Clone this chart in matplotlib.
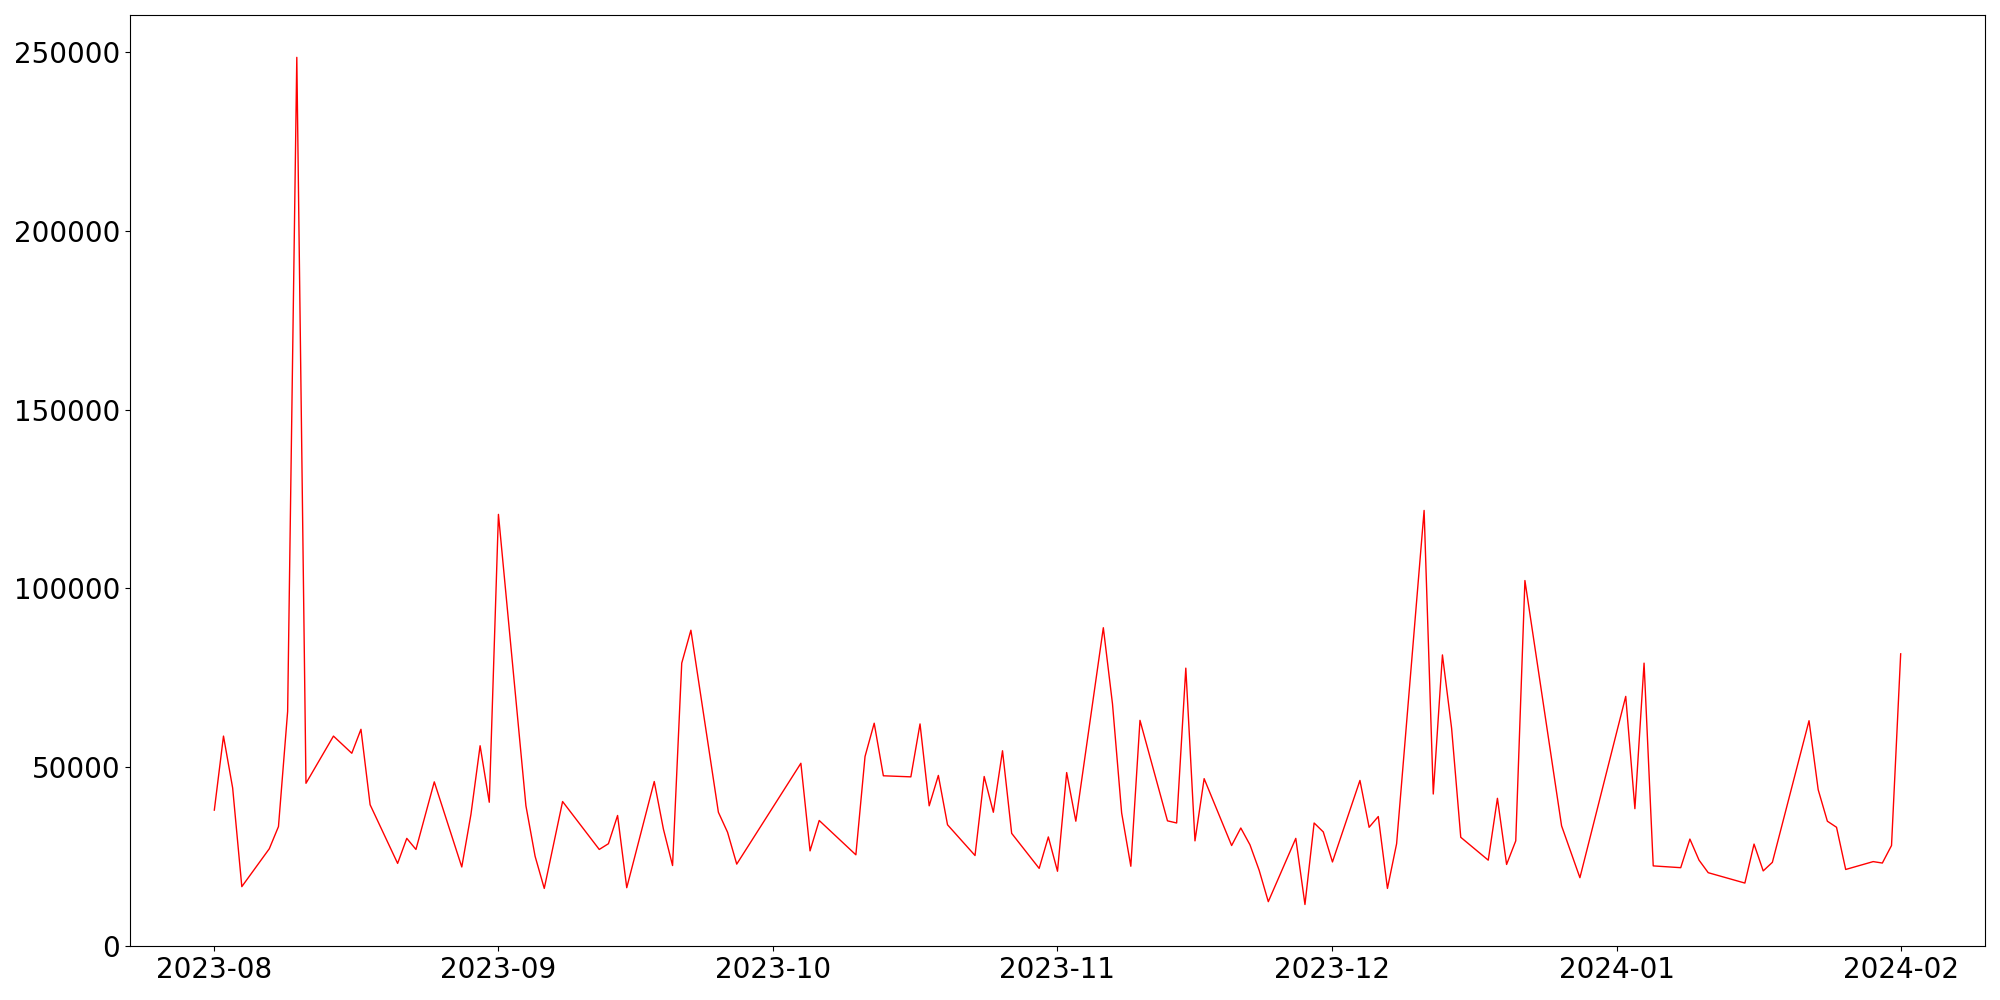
import matplotlib
matplotlib.use('Agg')

import matplotlib.pyplot as plt
import pandas as pd

# Trading days (gaps = weekends, holidays and missing days)
dates = [
    "2023-08-01", "2023-08-02", "2023-08-03", "2023-08-04", "2023-08-07",
    "2023-08-08", "2023-08-09", "2023-08-10", "2023-08-11", "2023-08-14",
    "2023-08-16", "2023-08-17", "2023-08-18", "2023-08-21", "2023-08-22",
    "2023-08-23", "2023-08-25", "2023-08-28", "2023-08-29", "2023-08-30",
    "2023-08-31", "2023-09-01", "2023-09-04", "2023-09-05", "2023-09-06",
    "2023-09-08", "2023-09-12", "2023-09-13", "2023-09-14", "2023-09-15",
    "2023-09-18", "2023-09-19", "2023-09-20", "2023-09-21", "2023-09-22",
    "2023-09-25", "2023-09-26", "2023-09-27", "2023-10-04", "2023-10-05",
    "2023-10-06", "2023-10-10", "2023-10-11", "2023-10-12", "2023-10-13",
    "2023-10-16", "2023-10-17", "2023-10-18", "2023-10-19", "2023-10-20",
    "2023-10-23", "2023-10-24", "2023-10-25", "2023-10-26", "2023-10-27",
    "2023-10-30", "2023-10-31", "2023-11-01", "2023-11-02", "2023-11-03",
    "2023-11-06", "2023-11-07", "2023-11-08", "2023-11-09", "2023-11-10",
    "2023-11-13", "2023-11-14", "2023-11-15", "2023-11-16", "2023-11-17",
    "2023-11-20", "2023-11-21", "2023-11-22", "2023-11-23", "2023-11-24",
    "2023-11-27", "2023-11-28", "2023-11-29", "2023-11-30", "2023-12-01",
    "2023-12-04", "2023-12-05", "2023-12-06", "2023-12-07", "2023-12-08",
    "2023-12-11", "2023-12-12", "2023-12-13", "2023-12-14", "2023-12-15",
    "2023-12-18", "2023-12-19", "2023-12-20", "2023-12-21", "2023-12-22",
    "2023-12-26", "2023-12-28", "2024-01-02", "2024-01-03", "2024-01-04",
    "2024-01-05", "2024-01-08", "2024-01-09", "2024-01-10", "2024-01-11",
    "2024-01-15", "2024-01-16", "2024-01-17", "2024-01-18", "2024-01-22",
    "2024-01-23", "2024-01-24", "2024-01-25", "2024-01-26", "2024-01-29",
    "2024-01-30", "2024-01-31", "2024-02-01",
]

values = [
    38000, 58700, 44200, 16600, 27200,
    33400, 65600, 248500, 45500, 58700,
    53900, 60600, 39500, 23100, 30100,
    27000, 45900, 22100, 36800, 56000,
    40200, 120700, 39200, 25100, 16100,
    40400, 27000, 28600, 36500, 16300,
    46000, 32700, 22500, 79100, 88300,
    37400, 31800, 22900, 51100, 26600,
    35100, 25500, 53000, 62300, 47600,
    47300, 62100, 39200, 47700, 33900,
    25300, 47400, 37400, 54600, 31500,
    21700, 30500, 20900, 48500, 34900,
    89000, 67700, 37200, 22300, 63100,
    35000, 34400, 77700, 29400, 46800,
    28100, 33000, 28300, 21200, 12400,
    30100, 11600, 34400, 31900, 23500,
    46300, 33200, 36200, 16100, 28600,
    121800, 42500, 81400, 60900, 30400,
    24000, 41300, 22800, 29400, 102200,
    33600, 19100, 69800, 38400, 79100,
    22400, 21900, 29900, 24000, 20500,
    17600, 28500, 21000, 23400, 63000,
    43700, 34900, 33200, 21400, 23600,
    23200, 28100, 81700,
]

x = pd.to_datetime(dates)

fig, ax = plt.subplots(figsize=(20, 10), dpi=100)
ax.plot(x, values, color='red', linewidth=1)
ax.set_ylim(bottom=0)
ax.tick_params(axis='both', labelsize=20)

fig.subplots_adjust(left=0.065, right=0.9925, bottom=0.054, top=0.985)
fig.savefig("out.png")
